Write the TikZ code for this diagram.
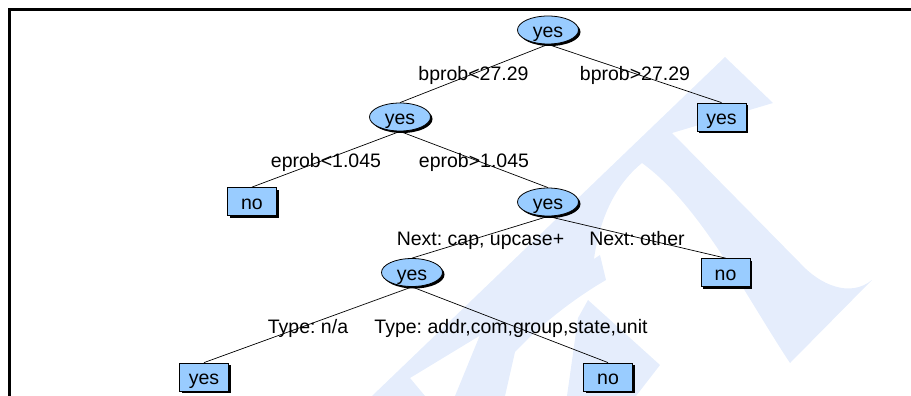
\documentclass[tikz,border=0pt]{standalone}
\usepackage{fontspec}
\setmainfont{Liberation Sans}
\usetikzlibrary{shapes.geometric,shadows}
\definecolor{nodefill}{RGB}{153,204,255}
\definecolor{wmark}{RGB}{229,237,252}
\frenchspacing
\begin{document}
\begin{tikzpicture}[x=1pt,y=-1pt,
  font=\fontsize{19.5}{22}\selectfont,
  nodeshadow/.style={general shadow={fill=black,shadow xshift=2pt,shadow yshift=-2pt}},
  leafbox/.style={rectangle,draw=black,line width=0.8pt,fill=nodefill,
    minimum width=49pt,minimum height=28pt,inner sep=0pt,
    text height=15pt,text depth=0pt,nodeshadow},
  splitnode/.style={ellipse,draw=black,line width=0.8pt,fill=nodefill,
    minimum width=61pt,minimum height=28pt,inner sep=0pt,
    text height=15pt,text depth=0pt,nodeshadow},
  branchlabel/.style={anchor=base,inner sep=0pt},
  branch/.style={draw=black,line width=0.7pt}]
\useasboundingbox (0,0) rectangle (911,396);
\clip (0,0) rectangle (911,396);

% background logo
\fill[wmark] (725,57) -- (773,103) -- (672,133) -- (800,263)
  .. controls (820,285) and (850,298) .. (872,280) -- (790,363)
  .. controls (745,295) and (700,205) .. (642,163)
  .. controls (615,185) and (598,220) .. (593,267)
  -- (410,378) -- (425,396) -- (372,396) -- cycle;
\fill[wmark] (600,255) .. controls (565,278) and (510,310) .. (480,335)
  -- (455,396) -- (505,396) -- (515,352)
  .. controls (545,320) and (580,295) .. (606,280) -- cycle;
\fill[wmark] (588,300) -- (660,365) -- (636,396) -- (567,396) -- (578,318) -- cycle;

% frame
\draw[line width=2.5pt] (920,9.5) -- (9.5,9.5) -- (9.5,405);

% tree nodes
\node[splitnode] (root) at (548,30) {yes};
\node[splitnode] (bl) at (400,117) {yes};
\node[leafbox] (br) at (721.5,117) {yes};
\node[leafbox] (el) at (252,201.5) {no};
\node[splitnode] (er) at (548,202) {yes};
\node[splitnode] (nl) at (412,272.5) {yes};
\node[leafbox] (nr) at (725.5,272.5) {no};
\node[leafbox] (tl) at (204,377) {yes};
\node[leafbox] (tr) at (608,377) {no};

% branches
\path[branch] (root.south) -- (bl.north);
\path[branch] (root.south) -- (br.north);
\path[branch] (bl.south) -- (el.north);
\path[branch] (bl.south) -- (er.north);
\path[branch] (er.south) -- (nl.north);
\path[branch] (er.south) -- (nr.north);
\path[branch] (nl.south) -- (tl.north);
\path[branch] (nl.south) -- (tr.north);

% branch conditions
\node[branchlabel] (lb1) at (473.5,81) {bprob<27.29};
\node[branchlabel] (lb2) at (635,81) {bprob>27.29};
\node[branchlabel] (le1) at (326,167) {eprob<1.045};
\node[branchlabel] (le2) at (474,167) {eprob>1.045};
\node[branchlabel] (ln1) at (480.5,245) {Next: cap, upcase+};
\node[branchlabel] (ln2) at (637,245) {Next: other};
\node[branchlabel] (lt1) at (308,333) {Type: n/a};
\node[branchlabel] (lt2) at (511,333) {Type: addr,com,group,state,unit};
\end{tikzpicture}
\end{document}
